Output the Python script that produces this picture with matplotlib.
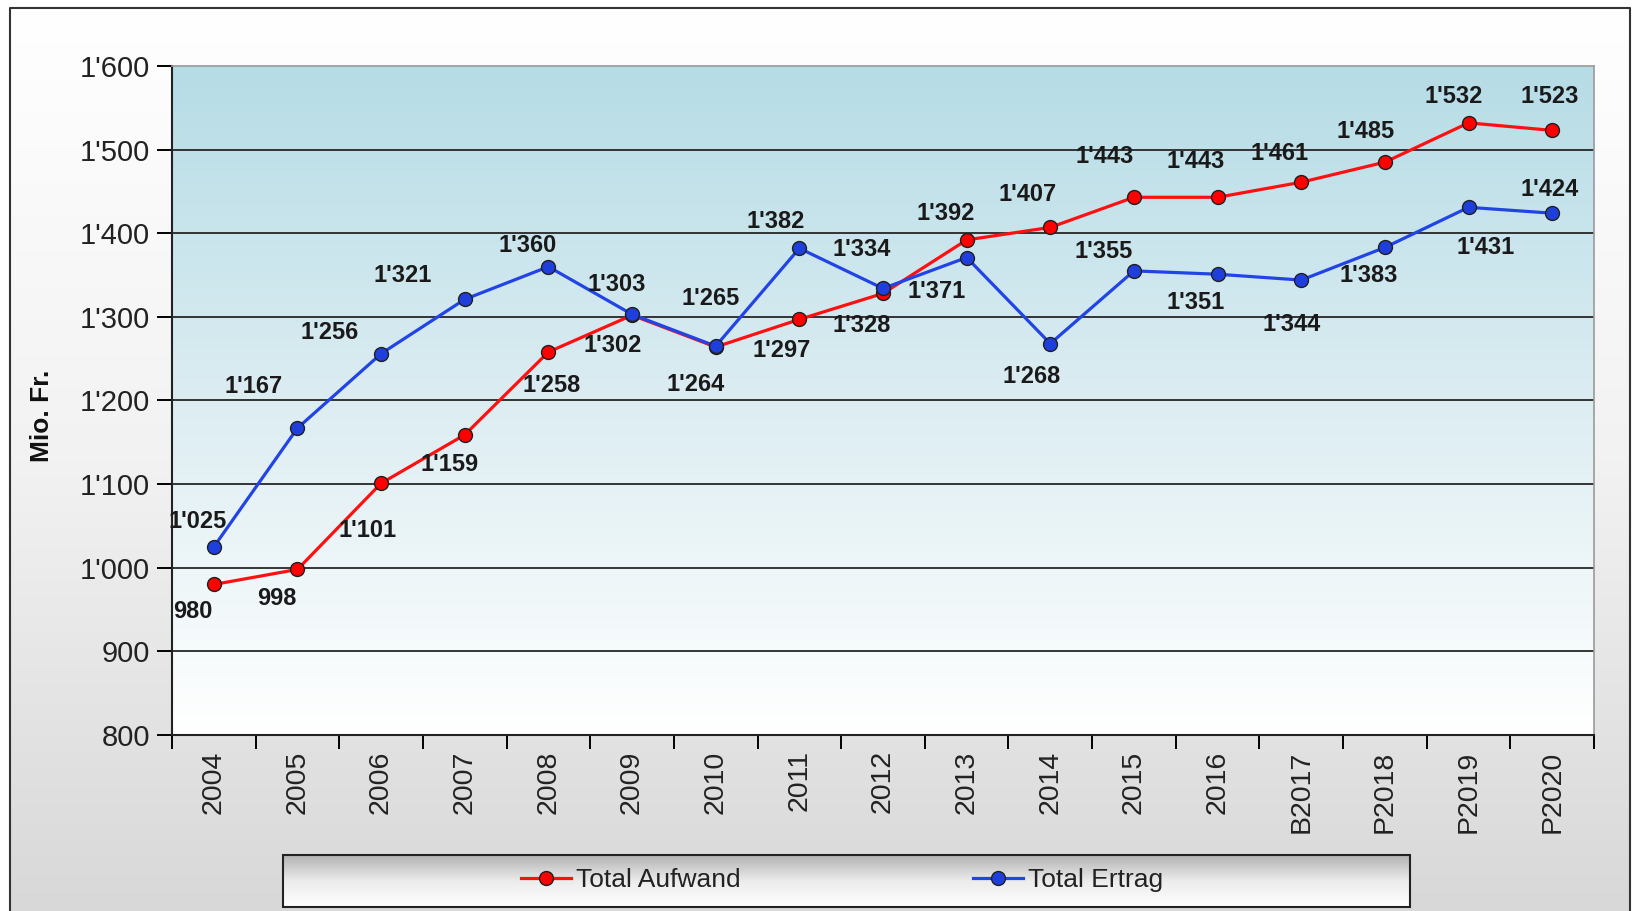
import numpy as np
import matplotlib.pyplot as plt
from matplotlib.patches import Rectangle
from matplotlib.lines import Line2D
from matplotlib.colors import LinearSegmentedColormap
from matplotlib.ticker import FuncFormatter, FixedLocator

plt.rcParams['font.family'] = ['Liberation Sans', 'DejaVu Sans']

years = ['2004', '2005', '2006', '2007', '2008', '2009', '2010', '2011', '2012',
         '2013', '2014', '2015', '2016', 'B2017', 'P2018', 'P2019', 'P2020']
aufwand = [980, 998, 1101, 1159, 1258, 1302, 1264, 1297, 1328,
           1392, 1407, 1443, 1443, 1461, 1485, 1532, 1523]
ertrag = [1025, 1167, 1256, 1321, 1360, 1303, 1265, 1382, 1334,
          1371, 1268, 1355, 1351, 1344, 1383, 1431, 1424]
y_ticks = [800, 900, 1000, 1100, 1200, 1300, 1400, 1500, 1600]

# label offsets from the point, in pixels (right, down)
aufwand_off = [(-20, 26), (-20, 28), (-13, 45), (-15, 29), (3, 32), (-19, 29),
               (-19, 36), (-17, 30), (-20, 31), (-20, -25), (-22, -32), (-28, -39),
               (-21, -34), (-21, -28), (-19, -29), (-14, -25), (-2, -33)]
ertrag_off = [(-16, -24), (-42, -40), (-49, -20), (-60, -23), (-20, -20), (-15, -29),
              (-5, -46), (-23, -26), (-20, -37), (-29, 33), (-18, 32), (-29, -19),
              (-21, 27), (-9, 43), (-16, 27), (16, 39), (-2, -23)]

W, H = 1632, 911


def swiss(v, pos=None):
    v = int(round(v))
    if v >= 1000:
        return "{}'{:03d}".format(v // 1000, v % 1000)
    return str(v)


fig = plt.figure(figsize=(W / 100, H / 100), dpi=100)
fig.patch.set_facecolor('white')

# background with frame and legend box
bg = fig.add_axes([0, 0, 1, 1], zorder=-10)
bg.set_xlim(0, W)
bg.set_ylim(H, 0)
bg.axis('off')
grad = np.linspace(0, 1, 256).reshape(-1, 1)
grey_cmap = LinearSegmentedColormap.from_list('g', ['#ffffff', '#f2f2f2', '#d8d8d8'])
bg.imshow(grad, extent=(10, 1630, H, 8), cmap=grey_cmap, aspect='auto', zorder=0)
bg.plot([10, 10, 1630, 1630], [H, 8, 8, H], color='#333333', lw=1.5, zorder=1)
leg_cmap = LinearSegmentedColormap.from_list('l', ['#b2b2b2', '#ececec', '#ffffff'])
bg.imshow(grad, extent=(283, 1410, 907, 855), cmap=leg_cmap, aspect='auto', zorder=2)
bg.add_patch(Rectangle((283, 855), 1127, 52, fill=False, ec='#222222', lw=1.5, zorder=3))

ax = fig.add_axes([172 / W, 1 - 735 / H, (1594 - 172) / W, (735 - 66) / H])
x = np.arange(len(years))
ax.set_xlim(-0.5, len(years) - 0.5)
ax.set_ylim(y_ticks[0], y_ticks[-1])

blue_cmap = LinearSegmentedColormap.from_list('b', ['#b6dce6', '#dcedf2', '#ffffff'])
ax.imshow(grad, extent=(-0.5, len(years) - 0.5, y_ticks[0], y_ticks[-1]),
          cmap=blue_cmap, aspect='auto', zorder=-2)
for t in y_ticks[1:-1]:
    ax.axhline(t, color='#262626', lw=1.3, zorder=1)

ax.plot(x, aufwand, color='#ff1010', lw=2.3, marker='o', ms=10,
        mfc='#ff0000', mec='#202020', mew=1, zorder=3)
ax.plot(x, ertrag, color='#2244e6', lw=2.3, marker='o', ms=10,
        mfc='#1f3fdc', mec='#202020', mew=1, zorder=3)

for vals, offs in ((aufwand, aufwand_off), (ertrag, ertrag_off)):
    for i, v in enumerate(vals):
        dx, dy = offs[i]
        ax.annotate(swiss(v), (i, v), xytext=(dx * 0.75, -dy * 0.75),
                    textcoords='offset points', ha='center', va='center',
                    fontsize=17, fontweight='bold', color='#1a1a1a',
                    annotation_clip=False, zorder=4)

ax.set_yticks(y_ticks)
ax.yaxis.set_major_formatter(FuncFormatter(swiss))
ax.tick_params(axis='y', direction='out', length=11, width=1.4, pad=5,
               labelsize=21, labelcolor='#222222')

ax.xaxis.set_major_locator(FixedLocator(np.arange(len(years) + 1) - 0.5))
ax.xaxis.set_major_formatter(FuncFormatter(lambda v, p: ''))
ax.xaxis.set_minor_locator(FixedLocator(x))
ax.set_xticklabels(years, minor=True, rotation=90, fontsize=20.5, color='#222222')
ax.tick_params(axis='x', which='major', direction='out', length=10, width=1.4)
ax.tick_params(axis='x', which='minor', length=0, pad=11)

for s in ('left', 'bottom'):
    ax.spines[s].set_color('#222222')
    ax.spines[s].set_linewidth(1.5)
for s in ('top', 'right'):
    ax.spines[s].set_color('#9a9a9a')
    ax.spines[s].set_linewidth(1.2)

fig.text(42 / W, 1 - 416 / H, 'Mio. Fr.', rotation=90, ha='center', va='center',
         fontsize=19, fontweight='bold', color='#111111')

handles = [Line2D([], [], color='#ff1010', lw=2.3, marker='o', ms=10,
                  mfc='#ff0000', mec='#202020'),
           Line2D([], [], color='#2244e6', lw=2.3, marker='o', ms=10,
                  mfc='#1f3fdc', mec='#202020')]
fig.legend(handles, ['Total Aufwand', 'Total Ertrag'], loc='center',
           bbox_to_anchor=(842 / W, 1 - 880 / H), ncol=2, frameon=False,
           fontsize=19, columnspacing=8.8, handlelength=1.9, handletextpad=0.2,
           labelcolor='#222222')

fig.savefig('out.png', dpi=100)
